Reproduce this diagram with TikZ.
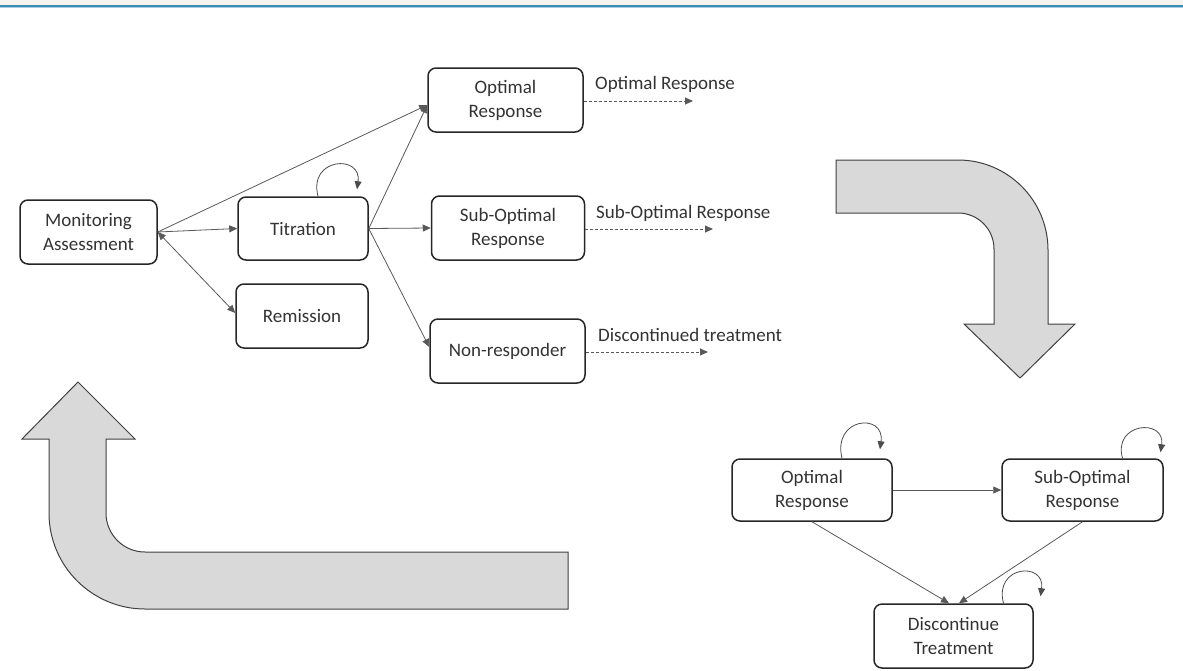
\documentclass[tikz,border=0pt]{standalone}
\usepackage{fontspec}
\setmainfont{Carlito}
\usetikzlibrary{arrows.meta,calc}

\definecolor{stripbeige}{HTML}{F6F2EE}
\definecolor{stripblue}{HTML}{3B8DB2}
\definecolor{striplight}{HTML}{A8CFE0}
\definecolor{bigfill}{HTML}{D9D9D9}
\definecolor{bigedge}{HTML}{404040}
\definecolor{inkgray}{HTML}{333333}

\tikzset{
  every node/.style={font=\fontsize{19}{24}\selectfont, text=inkgray},
  stagebox/.style={draw=black!85, line width=1.5pt, rounded corners=8pt,
    align=center, inner sep=0pt},
  flow/.style={draw=black!65, line width=0.8pt, -{Triangle[length=8pt,width=7pt]}},
  flowboth/.style={draw=black!65, line width=0.8pt,
    {Triangle[length=8pt,width=7pt]}-{Triangle[length=8pt,width=7pt]}},
  outcome/.style={draw=black!65, line width=0.9pt, dash pattern=on 3pt off 2pt,
    -{Triangle[length=8pt,width=7pt]}},
  selfloop/.style={draw=black!70, line width=0.8pt, -{Triangle[length=8pt,width=7pt]}},
  outlabel/.style={anchor=west, inner sep=0pt},
  bigarrow/.style={fill=bigfill, draw=bigedge, line width=1pt, line join=miter},
}

\begin{document}
\begin{tikzpicture}[x=1pt, y=-1pt]
  \useasboundingbox (0,0) rectangle (1183,670);

  % header strip
  \fill[stripbeige] (0,0) rectangle (1183,5);
  \fill[stripblue] (0,5) rectangle (1183,7);
  \fill[striplight] (0,7) rectangle (1183,7.8);

  % large cycle arrows
  \draw[bigarrow] (836,160) -- (958,160) arc[start angle=-90, end angle=0, radius=90]
    -- (1048,324) -- (1075,324) -- (1020,378) -- (964,324) -- (994,324)
    -- (994,249) arc[start angle=0, end angle=-90, radius=36]
    -- (836,213) -- cycle;
  \draw[bigarrow] (78,382) -- (135,439) -- (106,439) -- (106,513)
    arc[start angle=180, end angle=90, radius=39]
    -- (568,552) -- (568,609) -- (145,609)
    arc[start angle=90, end angle=180, radius=96]
    -- (49,439) -- (22,439) -- cycle;

  % first stage
  \node[stagebox, minimum width=137pt, minimum height=64pt] (mon) at (88.5,232) {Monitoring\\Assessment};
  \node[stagebox, minimum width=130pt, minimum height=63pt] (tit) at (303,228.5) {Titration};
  \node[stagebox, minimum width=132pt, minimum height=64pt] (rem) at (302,316) {Remission};
  \node[stagebox, minimum width=155pt, minimum height=64pt] (opt) at (505.5,100) {Optimal\\Response};
  \node[stagebox, minimum width=153pt, minimum height=64pt] (sub) at (508,228) {Sub-Optimal\\Response};
  \node[stagebox, minimum width=155pt, minimum height=64pt] (non) at (507.5,351) {Non-responder};

  \coordinate (optin) at ($(opt.west)+(0,5)$);
  \draw[flow] (mon.east) -- (optin);
  \draw[flow] (tit.east) -- (optin);
  \draw[flow] (mon.east) -- (tit.west);
  \draw[flowboth] (mon.east) -- ($(rem.west)+(0,-3)$);
  \draw[flow] (tit.east) -- (sub.west);
  \draw[flow] (tit.east) -- ($(non.west)+(0,-4)$);
  \draw[selfloop] ([xshift=15pt]tit.north) .. controls +(-10,-39) and +(5,-35) .. +(39,-7);

  % outcomes
  \coordinate (optend) at (693,101);
  \coordinate (subend) at (713,229);
  \coordinate (nonend) at (708,352);
  \draw[outcome] (opt.east |- optend) -- (optend);
  \draw[outcome] (sub.east |- subend) -- (subend);
  \draw[outcome] (non.east |- nonend) -- (nonend);
  \node[outlabel] (optlab) at (595,84) {Optimal Response};
  \node[outlabel] (sublab) at (596,213) {Sub-Optimal Response};
  \node[outlabel] (nonlab) at (598,335) {Discontinued treatment};

  % second stage
  \node[stagebox, minimum width=160pt, minimum height=62pt] (ropt) at (812,490) {Optimal\\Response};
  \node[stagebox, minimum width=161pt, minimum height=62pt] (rsub) at (1082.5,490) {Sub-Optimal\\Response};
  \node[stagebox, minimum width=159pt, minimum height=64pt] (disc) at (953.5,636) {Discontinue\\Treatment};

  \draw[flow] (ropt.east) -- (rsub.west);
  \draw[flow] (ropt.south) -- ($(disc.north)+(-4.5,0)$);
  \draw[flow] (rsub.south) -- ($(disc.north)+(5.5,0)$);
  \draw[selfloop] ([xshift=30pt]ropt.north) .. controls +(-10,-41) and +(5,-37) .. +(38,-9);
  \draw[selfloop] ([xshift=40pt]rsub.north) .. controls +(-10,-36) and +(5,-34) .. +(38,-6);
  \draw[selfloop] ([xshift=50pt]disc.north) .. controls +(-10,-38) and +(5,-35) .. +(37,-7);
\end{tikzpicture}
\end{document}
